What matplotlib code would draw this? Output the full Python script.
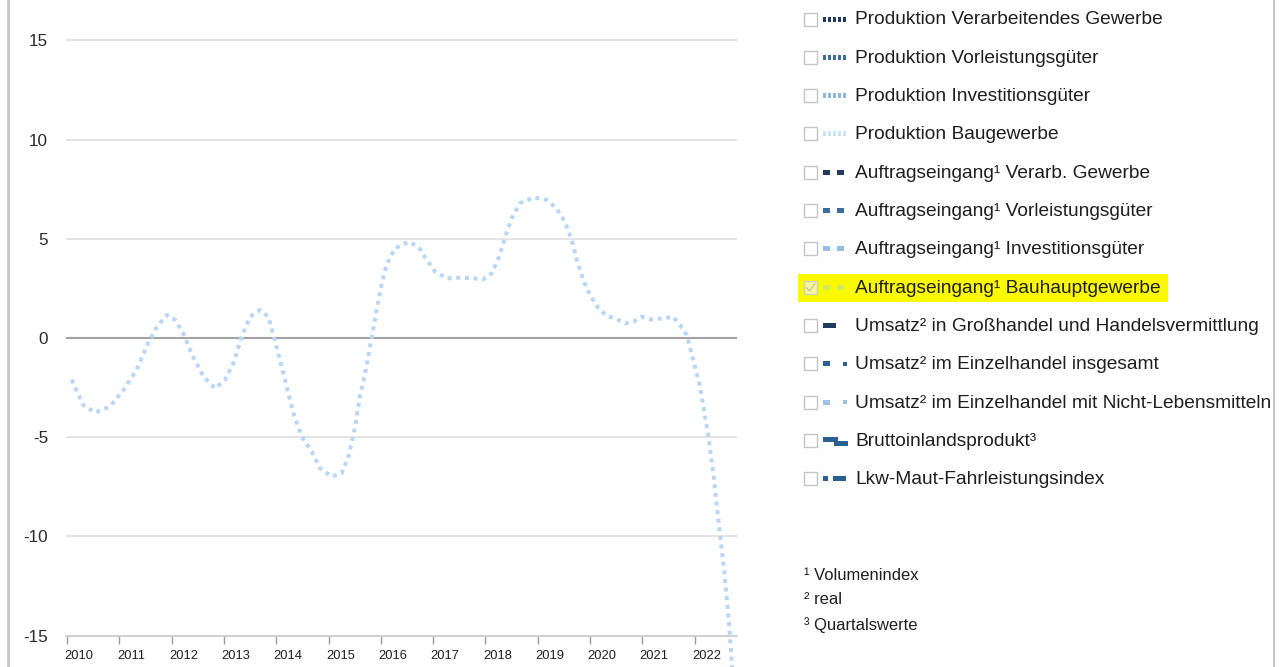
import matplotlib
matplotlib.use("Agg")
import matplotlib.pyplot as plt
import matplotlib.transforms as mtransforms
from matplotlib.lines import Line2D
from matplotlib.patches import Rectangle

plt.rcParams['font.family'] = ['Liberation Sans', 'DejaVu Sans']

# Auftragseingang Bauhauptgewerbe, Veränderung ggü. Vorjahr in %
jahre = [2010.09, 2010.31, 2010.54, 2010.82, 2011.08, 2011.33, 2011.55, 2011.72, 2011.91, 2012.07,
         2012.22, 2012.41, 2012.61, 2012.83, 2013.02, 2013.18, 2013.34, 2013.50, 2013.69, 2013.85,
         2013.96, 2014.10, 2014.20, 2014.33, 2014.49, 2014.68, 2014.84, 2015.06, 2015.25, 2015.38,
         2015.51, 2015.60, 2015.70, 2015.83, 2015.92, 2016.02, 2016.11, 2016.27, 2016.53, 2016.72,
         2016.88, 2017.04, 2017.26, 2017.51, 2017.77, 2017.96, 2018.12, 2018.25, 2018.37, 2018.50,
         2018.66, 2018.92, 2019.17, 2019.36, 2019.52, 2019.65, 2019.75, 2019.87, 2020.00, 2020.16,
         2020.32, 2020.48, 2020.67, 2020.83, 2020.99, 2021.15, 2021.40, 2021.59, 2021.72, 2021.85,
         2021.93, 2022.10, 2022.26, 2022.35, 2022.46, 2022.57, 2022.66, 2022.72]
werte = [-2.10, -3.38, -3.76, -3.46, -2.62, -1.61, -0.27, 0.57, 1.16, 0.91,
         0.24, -0.94, -1.95, -2.54, -2.12, -1.28, 0.06, 1.07, 1.41, 1.07,
         0.00, -1.40, -2.45, -3.80, -4.97, -5.73, -6.57, -6.99, -6.82, -5.98,
         -4.47, -2.96, -1.78, 0.07, 1.41, 2.76, 3.70, 4.52, 4.85, 4.60,
         3.93, 3.34, 3.01, 3.04, 3.01, 2.96, 3.26, 4.02, 5.03, 6.03,
         6.79, 7.09, 6.96, 6.54, 5.86, 4.94, 3.93, 2.92, 2.17, 1.50,
         1.11, 0.99, 0.74, 0.82, 1.07, 0.94, 0.99, 1.07, 0.66, 0.15,
         -0.65, -2.40, -4.90, -6.65, -9.30, -11.85, -14.40, -16.70]

x_jahre = list(range(2010, 2023))
y_ticks = [-15, -10, -5, 0, 5, 10, 15]

legende_texte = [
    "Produktion Verarbeitendes Gewerbe",
    "Produktion Vorleistungsgüter",
    "Produktion Investitionsgüter",
    "Produktion Baugewerbe",
    "Auftragseingang¹ Verarb. Gewerbe",
    "Auftragseingang¹ Vorleistungsgüter",
    "Auftragseingang¹ Investitionsgüter",
    "Auftragseingang¹ Bauhauptgewerbe",
    "Umsatz² in Großhandel und Handelsvermittlung",
    "Umsatz² im Einzelhandel insgesamt",
    "Umsatz² im Einzelhandel mit Nicht-Lebensmitteln",
    "Bruttoinlandsprodukt³",
    "Lkw-Maut-Fahrleistungsindex",
]
legende_stile = ['dots', 'dots', 'dots', 'dots', 'squares', 'squares', 'squares', 'squares',
                 'dash', 'sq_small', 'sq_small', 'step', 'sq_dash']
legende_farben = ['#1f3b5e', '#3d6c9c', '#8db7e0', '#cce3f8', '#1f3b5e', '#3d6c9c', '#94bde5',
                  '#d2ea5c', '#1f3b5e', '#2e5f91', '#9dc2e8', '#2c5f92', '#2c5f92']
aktiv = 7  # ausgewählte (markierte) Reihe

fussnoten = ["¹ Volumenindex", "² real", "³ Quartalswerte"]

LINE_COLOR = '#bad6f6'
TEXT_COLOR = '#1e1e1e'

W, H = 1280, 667
fig = plt.figure(figsize=(W / 100, H / 100), dpi=100)

# Plotbereich: Pixel 66..737 horizontal, volle Höhe
px_per_year = 52.3
px_per_unit = 19.84
y0_px = 338  # Nulllinie
ax = fig.add_axes([66 / W, 0, (737 - 66) / W, 1])
ax.set_xlim(2010 - 1 / px_per_year, 2010 + (737 - 67) / px_per_year)
ax.set_ylim((y0_px - H) / px_per_unit, y0_px / px_per_unit)

ax.plot(jahre, werte, color=LINE_COLOR, lw=2.9, linestyle=(0, (1, 1.15)),
        dash_capstyle='butt', zorder=3)

ax.set_yticks(y_ticks)
ax.set_yticklabels([str(v) for v in y_ticks], fontsize=12.3, color='#2a2a2a')
ax.tick_params(axis='y', length=0, pad=13)
ax.yaxis.grid(True, color='#e2e2e2', lw=1.3)
ax.set_axisbelow(True)
ax.axhline(0, color='#a3a3a3', lw=1.5, zorder=2)

for s in ['left', 'right', 'top']:
    ax.spines[s].set_visible(False)
ax.spines['bottom'].set_position(('data', -15))
ax.spines['bottom'].set_color('#cccccc')
ax.spines['bottom'].set_linewidth(1.2)
ax.set_xticks(x_jahre)
ax.set_xticklabels([])
ax.tick_params(axis='x', direction='out', length=6, width=1, color='#9a9a9a')
lbl_trans = mtransforms.offset_copy(ax.transData, fig=fig, x=12, y=-20, units='dots')
for j in x_jahre:
    ax.text(j, -15, str(j), transform=lbl_trans, ha='center', va='center',
            fontsize=9.3, color=TEXT_COLOR)

# Rahmenlinien links und rechts
fig.add_artist(Line2D([8 / W, 8 / W], [0, 1], color='#c6c6c6', lw=2))
fig.add_artist(Line2D([1274 / W, 1274 / W], [0, 1], color='#c6c6c6', lw=1.5))

# Legende in Pixelkoordinaten
lg = fig.add_axes([0, 0, 1, 1], facecolor='none')
lg.set_xlim(0, W)
lg.set_ylim(H, 0)
lg.axis('off')


def draw_marker(stil, farbe, y):
    parts = []
    if stil == 'dots':
        parts = [(823 + i * 5, 3, 5) for i in range(5)]
    elif stil == 'squares':
        parts = [(823, 7, 5), (837, 7, 5)]
    elif stil == 'dash':
        parts = [(823, 13, 5)]
    elif stil == 'sq_small':
        parts = [(823, 7, 5), (843, 4, 4)]
    elif stil == 'sq_dash':
        parts = [(823, 5, 5), (833, 13, 5)]
    elif stil == 'step':
        lg.add_patch(Rectangle((823, y - 4), 15, 5, color=farbe, lw=0))
        lg.add_patch(Rectangle((834, y), 14, 5, color=farbe, lw=0))
        return
    for x, w, h in parts:
        lg.add_patch(Rectangle((x, y - h / 2), w, h, color=farbe, lw=0))


row_y0, row_dy = 19, 38.33
for i, (txt, stil, farbe) in enumerate(zip(legende_texte, legende_stile, legende_farben)):
    y = row_y0 + i * row_dy
    if i == aktiv:
        lg.add_patch(Rectangle((798, y - 13.5), 370, 28, color='#f9f900', lw=0))
    box_ec = '#d2d2b0' if i == aktiv else '#c4c4c4'
    lg.add_patch(Rectangle((804, y - 6.5), 13, 13, facecolor='white' if i != aktiv else '#f4f4a0',
                           edgecolor=box_ec, lw=1))
    if i == aktiv:
        lg.plot([806.5, 809.5, 815], [y + 0.5, y + 3.5, y - 3.5], color='#c8c890', lw=1)
    draw_marker(stil, farbe, y)
    lg.text(855, y + 1, txt, fontsize=13.8, color=TEXT_COLOR, va='center', ha='left')

for k, t in enumerate(fussnoten):
    lg.text(804, 575 + k * 25, t, fontsize=11.9, color=TEXT_COLOR, va='center', ha='left')

fig.savefig("out.png", dpi=100)
